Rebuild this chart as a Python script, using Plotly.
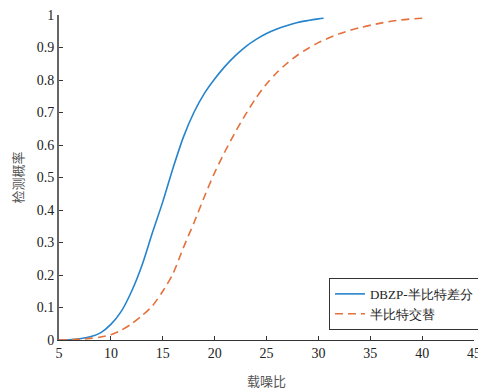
import plotly.graph_objects as go

# Data
snr_dbzp = [5, 6, 7, 8, 9, 10, 11, 12, 13, 14, 15, 16, 17, 18, 19, 20, 21, 22, 23, 24, 25, 26, 27, 28, 29, 30, 30.5]
pd_dbzp = [0.0, 0.001, 0.004, 0.01, 0.022, 0.048, 0.088, 0.15, 0.23, 0.33, 0.425, 0.53, 0.625, 0.7, 0.758, 0.803,
           0.842, 0.875, 0.903, 0.925, 0.943, 0.957, 0.968, 0.977, 0.983, 0.988, 0.99]

snr_alt = [5, 6, 7, 8, 9, 10, 11, 12, 13, 14, 15, 16, 17, 18, 19, 20, 21, 22, 23, 24, 25, 26, 27, 28, 29, 30,
           32, 34, 36, 38, 40, 40.5]
pd_alt = [0.0, 0.001, 0.002, 0.005, 0.009, 0.016, 0.03, 0.05, 0.075, 0.105, 0.15, 0.205, 0.285, 0.36, 0.44, 0.515,
          0.58, 0.64, 0.695, 0.745, 0.788, 0.823, 0.852, 0.877, 0.897, 0.915, 0.942, 0.961, 0.975, 0.985, 0.99, 0.991]

names = ["DBZP-半比特差分", "半比特交替"]
x_title = "载噪比"
y_title = "检测概率"
x_ticks = [5, 10, 15, 20, 25, 30, 35, 40, 45]
y_ticks = [0, 0.1, 0.2, 0.3, 0.4, 0.5, 0.6, 0.7, 0.8, 0.9, 1]
y_tick_text = ["0", "0.1", "0.2", "0.3", "0.4", "0.5", "0.6", "0.7", "0.8", "0.9", "1"]

font_fam = "Liberation Serif"
cjk_fam = "Noto Sans CJK SC"

fig = go.Figure()
fig.add_trace(go.Scatter(x=snr_dbzp, y=pd_dbzp, mode="lines", name=names[0],
                         line=dict(color="#2684CC", width=1.6, shape="spline", smoothing=0.8)))
fig.add_trace(go.Scatter(x=snr_alt, y=pd_alt, mode="lines", name=names[1],
                         line=dict(color="#E4713C", width=1.6, dash="8px,5px", shape="spline", smoothing=0.8)))

# the page body adds an 8px offset; the figure is sized to fit the 486x390 window
fig.update_layout(
    width=478, height=382,
    margin=dict(l=51, r=12, t=7, b=50, autoexpand=False),
    paper_bgcolor="white", plot_bgcolor="white",
    font=dict(family=font_fam, size=14, color="#222222"),
    showlegend=True,
    legend=dict(x=1.012, y=0.031, xanchor="right", yanchor="bottom",
                bordercolor="#333333", borderwidth=1, bgcolor="white",
                font=dict(family=font_fam, size=13, color="#222222"),
                tracegroupgap=0, itemwidth=30),
    xaxis=dict(range=[5, 45], tickvals=x_ticks, ticks="inside", ticklen=4, tickcolor="#333333",
               showline=True, linecolor="#333333", linewidth=1.2, showgrid=False, zeroline=False,
               automargin=False, ticklabeloverflow="allow",
               tickfont=dict(family=font_fam, size=14, color="#222222")),
    yaxis=dict(range=[0, 1], tickvals=y_ticks, ticktext=y_tick_text, ticks="inside", ticklen=4,
               tickcolor="#333333", showline=True, linecolor="#666666", linewidth=2, showgrid=False,
               zeroline=False, automargin=False, ticklabeloverflow="allow",
               tickfont=dict(family=font_fam, size=14, color="#222222")),
    annotations=[
        dict(text=x_title, xref="paper", yref="paper", x=0.5, y=-0.124, xanchor="center", yanchor="middle",
             showarrow=False, font=dict(family=cjk_fam, size=13, color="#555555")),
        dict(text=y_title, xref="paper", yref="paper", x=-0.099, y=0.5, xanchor="center", yanchor="middle",
             textangle=-90, showarrow=False, borderpad=0,
             font=dict(family=cjk_fam, size=13, color="#555555")),
    ],
)

fig.write_html("out.html")
